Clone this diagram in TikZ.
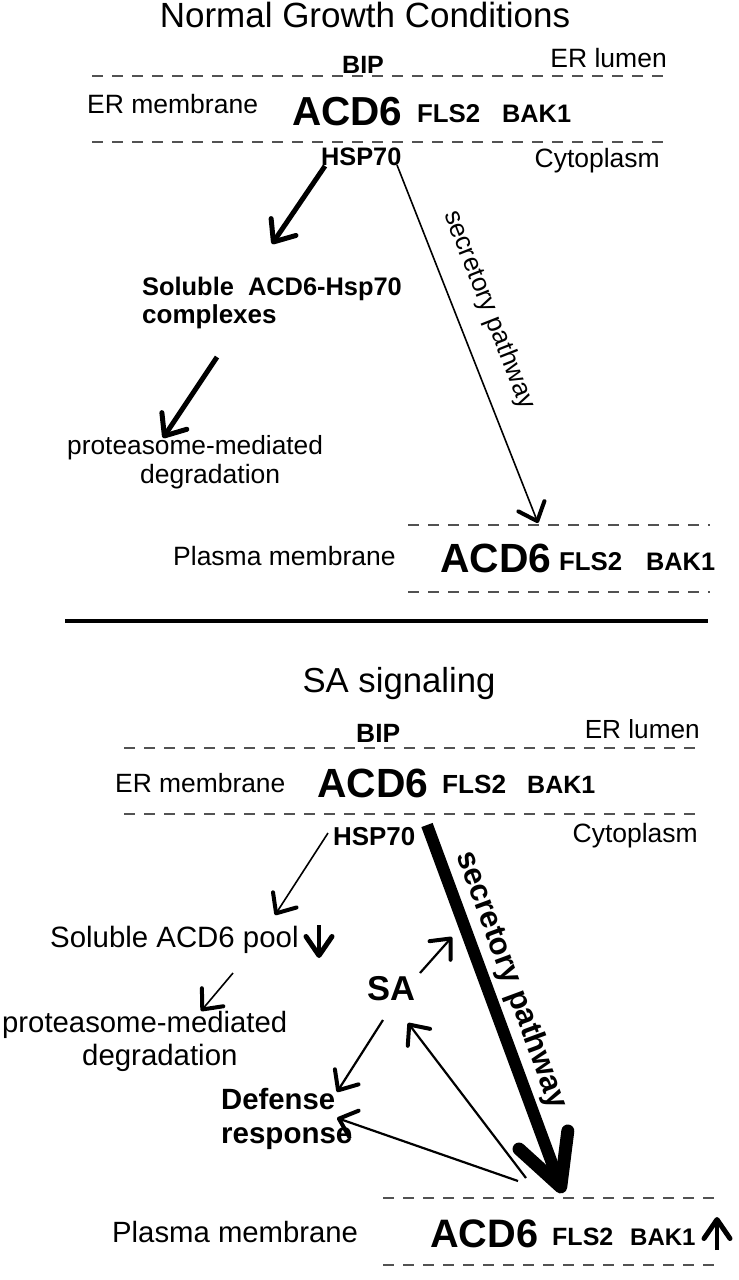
\documentclass[tikz,border=0pt]{standalone}
\usepackage{fontspec}
\setmainfont{Liberation Sans}
\usetikzlibrary{arrows.meta}
\newcommand\myfs[1]{\fontsize{#1pt}{#1pt}\selectfont}
\tikzset{
  lbl/.style={inner sep=0pt, anchor=base west, font=\myfs{#1}},
  lbl/.default=26,
  blbl/.style={inner sep=0pt, anchor=base west, font=\bfseries\myfs{#1}},
  blbl/.default=26,
  ttl/.style={inner sep=0pt, anchor=base, font=\myfs{#1}},
  memb/.style={draw=black!68, line width=2.5pt, dash pattern=on 11pt off 9pt},
  tipT/.tip={Straight Barb[length=18pt, width=30pt, line width=5pt, round]},
  tipS/.tip={Straight Barb[length=16pt, width=28pt, line width=4pt, round]},
  tipD/.tip={Straight Barb[length=19pt, width=26pt, line width=5pt, round]},
  tipH/.tip={Straight Barb[length=50pt, width=52pt, line width=13pt, round]},
  thickarr/.style={line width=5pt, -{tipT}},
  thinarr/.style={line width=1.6pt, -{tipS}},
  medarr/.style={line width=2.2pt, -{tipS}},
  smallarr/.style={line width=4.5pt, -{tipD}},
  hugearr/.style={line width=12pt, -{tipH}},
}
\begin{document}
\begin{tikzpicture}[x=1pt, y=-1pt]
\useasboundingbox (0,0) rectangle (739,1280);
% ---------------- Normal growth conditions ----------------
\node[ttl=35] (t1) at (365,27) {Normal Growth Conditions};
\node[blbl=25] (bip1) at (342,73) {BIP};
\node[lbl=26.5, anchor=base east] (lum1) at (667,67) {ER lumen};
\draw[memb] (92,76) -- (667,76);
\node[lbl=26.5] (erm1) at (87,113) {ER membrane};
\node[blbl=40.5] (acd1) at (292,125) {ACD6};
\node[blbl=25.8] (fls1) at (417,122) {FLS2};
\node[blbl=25.3] (bak1) at (502,122) {BAK1};
\draw[memb] (92,142) -- (667,142);
\node[blbl=25.3] (hsp1) at (321,165) {HSP70};
\node[lbl=26.5, anchor=base east] (cyt1) at (660,167) {Cytoplasm};
\node[blbl=25.4] (sol1) at (142,295) {Soluble~~ACD6-Hsp70};
\node[blbl=26] (sol1b) at (142,323) {complexes};
\node[lbl=26.3] (pro1) at (67,454) {proteasome-mediated};
\node[lbl=26.5] (pro1b) at (140,483) {degradation};
\draw[memb] (408,525) -- (710,525);
\draw[memb] (408,592) -- (710,592);
\node[lbl=26.5] (pm1) at (173,565) {Plasma membrane};
\node[blbl=40.8] (acd1p) at (440,572) {ACD6};
\node[blbl=25.8] (fls1p) at (559,570) {FLS2};
\node[blbl=25.3] (bak1p) at (646,570) {BAK1};
\coordinate (a1s) at (325,166);
\coordinate (a1e) at (272,244);
\coordinate (a2s) at (217,357);
\coordinate (a2e) at (163,438);
\coordinate (s1s) at (397,165);
\coordinate (s1e) at (538,523);
\draw[thickarr] (a1s) -- (a1e);
\draw[thickarr] (a2s) -- (a2e);
\draw[thinarr] (s1s) -- (s1e);
\node[font=\myfs{26}, inner sep=0pt, rotate=-68.5] (sec1) at (489,310) {secretory pathway};
\draw[line width=4pt] (65,621) -- (708,621);
% ---------------- SA signaling ----------------
\node[ttl=34.7] (t2) at (399,692) {SA signaling};
\node[blbl=26.4] (bip2) at (356,742) {BIP};
\node[lbl=26.2, anchor=base east] (lum2) at (700,738) {ER lumen};
\draw[memb] (124,748) -- (700,748);
\node[lbl=26.4] (erm2) at (115,792) {ER membrane};
\node[blbl=40.8] (acd2) at (317,797) {ACD6};
\node[blbl=26.2] (fls2) at (442,793) {FLS2};
\node[blbl=25] (bak2) at (527,793) {BAK1};
\draw[memb] (124,814) -- (700,814);
\node[blbl=25.9] (hsp2) at (333,845) {HSP70};
\node[lbl=26.5, anchor=base east] (cyt2) at (698,842) {Cytoplasm};
\node[lbl=29.4] (pool) at (50,947) {Soluble ACD6 pool};
\node[lbl=29.3] (pro2) at (2,1032) {proteasome-mediated};
\node[lbl=29.4] (pro2b) at (82,1065) {degradation};
\node[blbl=34.5] (sa) at (367,1000) {SA};
\node[blbl=29.3] (def) at (221,1109) {Defense};
\node[blbl=29.5] (defb) at (221,1143) {response};
\draw[memb] (383,1198) -- (720,1198);
\draw[memb] (383,1265) -- (720,1265);
\node[lbl=29.3] (pm2) at (112,1242) {Plasma membrane};
\node[blbl=39.7] (acd2p) at (430,1247) {ACD6};
\node[blbl=25] (fls2p) at (552,1245) {FLS2};
\node[blbl=24] (bak2p) at (630,1245) {BAK1};
\coordinate (b1s) at (328,833);
\coordinate (b1e) at (275,915);
\coordinate (dns) at (319,925);
\coordinate (dne) at (319,958);
\coordinate (b2s) at (233,973);
\coordinate (b2e) at (201,1011);
\coordinate (sas) at (420,973);
\coordinate (sae) at (452,937);
\coordinate (sds) at (383,1020);
\coordinate (sde) at (337,1092);
\coordinate (hs) at (427,825);
\coordinate (he) at (563,1193);
\coordinate (ps1) at (526,1178);
\coordinate (pe1) at (408,1023);
\coordinate (ps2) at (518,1181);
\coordinate (pe2) at (337,1118);
\coordinate (ups) at (717,1250);
\coordinate (upe) at (717,1217);
\draw[thinarr] (b1s) -- (b1e);
\draw[smallarr] (dns) -- (dne);
\draw[thinarr] (b2s) -- (b2e);
\draw[medarr] (sas) -- (sae);
\draw[medarr] (sds) -- (sde);
\draw[medarr] (ps1) -- (pe1);
\draw[medarr] (ps2) -- (pe2);
\draw[hugearr] (hs) -- (he);
\draw[smallarr] (ups) -- (upe);
\node[font=\bfseries\myfs{31}, inner sep=0pt, rotate=-69.7] (sec2) at (511,980) {secretory pathway};
\end{tikzpicture}
\end{document}
